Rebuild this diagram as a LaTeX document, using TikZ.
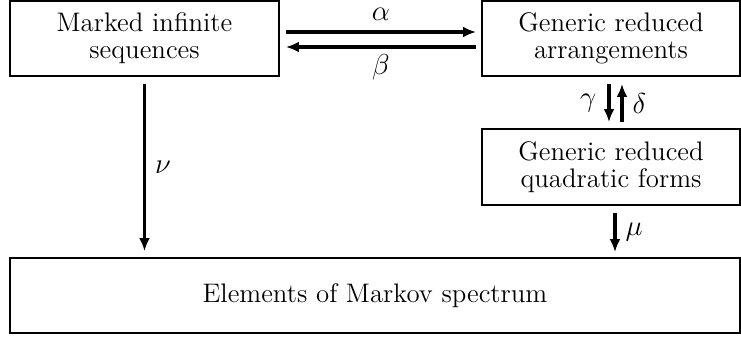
\documentclass[tikz,border=0pt]{standalone}
\usetikzlibrary{arrows.meta,calc}
\begin{document}
\begin{tikzpicture}[x=0.5pt,y=-0.5pt,
  box/.style={draw, line width=0.9pt, align=center, inner sep=0pt, font=\fontsize{13.4pt}{13.6pt}\selectfont},
  arr/.style={line width=1.6pt, -{Latex[length=6.5pt,width=5.5pt]}},
  lbl/.style={font=\fontsize{15pt}{16pt}\selectfont, inner sep=1.5pt}]
\useasboundingbox (0,0) rectangle (741,337);
\node[box, minimum width=134.5pt, minimum height=37.5pt] (A) at (144.5,38.5) {Marked infinite\\sequences};
\node[box, minimum width=129pt, minimum height=37.5pt] (B) at (611,38.5) {Generic reduced\\arrangements};
\node[box, minimum width=129pt, minimum height=38pt] (C) at (611,167) {Generic reduced\\quadratic forms};
\node[box, minimum width=365pt, minimum height=37.5pt] (D) at (375,295.5) {Elements of Markov spectrum};
\draw[arr] ([xshift=3pt,yshift=3.25pt]A.east) -- node[lbl, above, yshift=3.5pt] {$\alpha$} ([xshift=-2.5pt,yshift=3.25pt]B.west);
\draw[arr] ([xshift=-2.5pt,yshift=-4.25pt]B.west) -- node[lbl, below, yshift=-1.5pt] {$\beta$} ([xshift=3pt,yshift=-4.25pt]A.east);
\draw[arr] ([yshift=-3.5pt]A.south) -- node[lbl, right, pos=0.5, xshift=3pt] {$\nu$} ([yshift=3pt]A.south |- D.north);
\draw[arr] ([xshift=-1pt,yshift=-3.5pt]B.south) -- node[lbl, left, xshift=-4pt] {$\gamma$} ([xshift=-1pt,yshift=3pt]B.south |- C.north);
\draw[arr] ([xshift=5.5pt,yshift=3pt]B.south |- C.north) -- node[lbl, right, xshift=3pt] {$\delta$} ([xshift=5.5pt,yshift=-3.5pt]B.south);
\draw[arr] ([xshift=2pt,yshift=-3.5pt]C.south) -- node[lbl, right, pos=0.5, xshift=3pt] {$\mu$} ([xshift=2pt,yshift=2.5pt]C.south |- D.north);
\end{tikzpicture}
\end{document}
